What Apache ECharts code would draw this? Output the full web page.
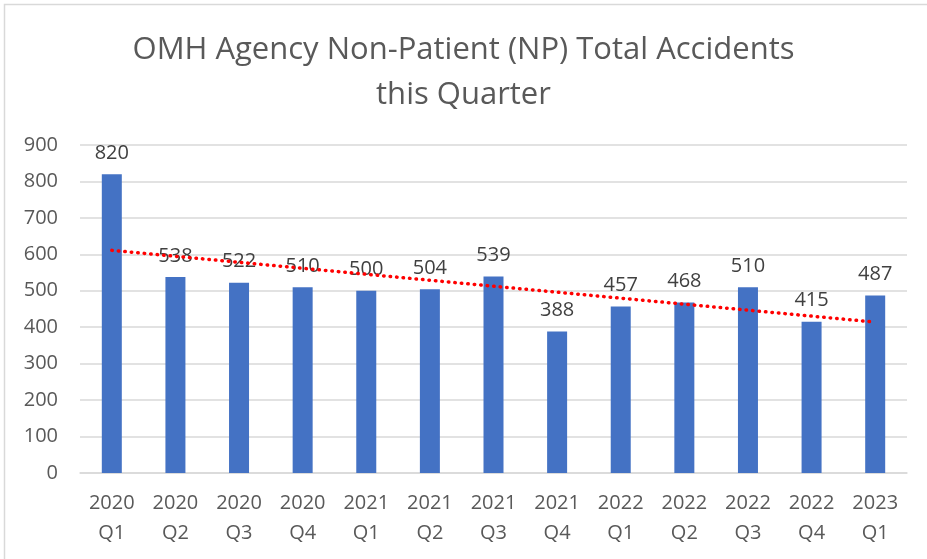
<!doctype html>
<html>
<head>
<meta charset="utf-8">
<title>OMH Agency NP Total Accidents</title>
<script src="https://cdn.jsdelivr.net/npm/echarts@6/dist/echarts.min.js"></script>
<style type="text/css">
  html, body { margin: 0; padding: 0; background: #fff; }
  #chart { width: 927px; height: 559px; }
</style>
</head>
<body>
<div id="chart"></div>
<script type="text/javascript">
  var quarters = ['2020\nQ1', '2020\nQ2', '2020\nQ3', '2020\nQ4', '2021\nQ1', '2021\nQ2', '2021\nQ3',
                  '2021\nQ4', '2022\nQ1', '2022\nQ2', '2022\nQ3', '2022\nQ4', '2023\nQ1'];
  var accidents = [820, 538, 522, 510, 500, 504, 539, 388, 457, 468, 510, 415, 487];
  // linear trend, value at first and last quarter
  var trendEnds = [611, 414];

  var font = 'Open Sans';
  var grey = '#595959';

  var chart = echarts.init(document.getElementById('chart'));
  chart.setOption({
    animation: false,
    textStyle: { fontFamily: font },
    title: {
      text: 'OMH Agency Non-Patient (NP) Total Accidents\nthis Quarter',
      left: 'center',
      top: 23,
      textStyle: { fontSize: 31, fontWeight: 'normal', color: grey, lineHeight: 45, fontFamily: font }
    },
    graphic: [{
      type: 'rect',
      shape: { x: 4.5, y: 4.5, width: 940, height: 560 },
      style: { fill: 'none', stroke: '#d9d9d9', lineWidth: 1.5 },
      silent: true
    }],
    grid: { left: 80, right: 20, top: 145, bottom: 86 },
    xAxis: {
      type: 'category',
      data: quarters,
      axisTick: { show: false },
      axisLine: { lineStyle: { color: '#d9d9d9', width: 1.5 } },
      axisLabel: { color: grey, fontSize: 20, lineHeight: 30, margin: 15, interval: 0 }
    },
    yAxis: {
      type: 'value',
      min: 0,
      max: 900,
      interval: 100,
      axisLine: { show: false },
      axisTick: { show: false },
      splitLine: { lineStyle: { color: '#d9d9d9', width: 1.5 } },
      axisLabel: { color: grey, fontSize: 20, margin: 22 }
    },
    series: [{
      type: 'bar',
      data: accidents,
      barWidth: 20,
      itemStyle: { color: '#4472c4' },
      label: { show: true, position: 'top', distance: 11, color: '#404040', fontSize: 20 },
      markLine: {
        silent: true,
        symbol: 'none',
        label: { show: false },
        lineStyle: { color: '#ff0000', width: 3.5, type: [0.5, 6], cap: 'round' },
        data: [[
          { coord: [0, trendEnds[0]] },
          { coord: [quarters.length - 1, trendEnds[1]] }
        ]]
      }
    }]
  });
</script>
</body>
</html>
